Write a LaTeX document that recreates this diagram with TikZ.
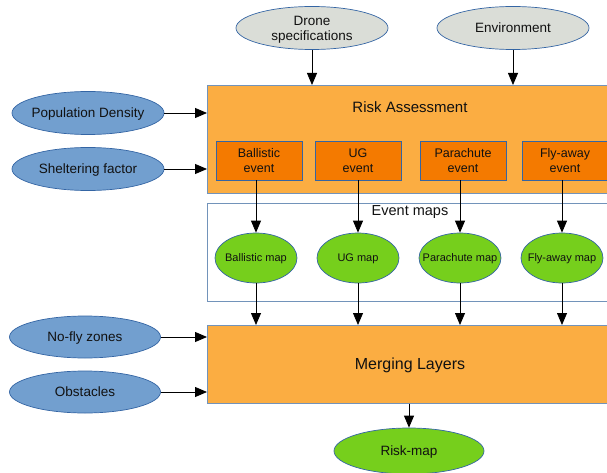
\documentclass[tikz,border=0pt]{standalone}
\usepackage{fontspec}
\setmainfont{Liberation Sans}
\usetikzlibrary{shapes.geometric,arrows.meta}
\definecolor{raorange}{HTML}{FBAD42}
\definecolor{evorange}{HTML}{F47A00}
\definecolor{inblue}{HTML}{729FCF}
\definecolor{ingray}{HTML}{DADDD7}
\definecolor{mapgreen}{HTML}{76CF1C}
\definecolor{edgeblue}{HTML}{3465A4}
\definecolor{boxedge}{HTML}{7293BA}
\definecolor{txt}{HTML}{111111}
\newcommand{\zw}[1]{\makebox[0pt][c]{#1}}
\tikzset{
  ell/.style={ellipse,draw=edgeblue,line width=0.7pt,inner sep=0pt,text=txt,align=center,text depth=0pt},
  inell/.style={ell,fill=inblue,minimum width=152pt,minimum height=43pt,font=\fontsize{13.5}{15}\selectfont},
  topell/.style={ell,fill=ingray,minimum width=152pt,minimum height=43pt,font=\fontsize{13.5}{15}\selectfont},
  mapell/.style={ell,fill=mapgreen,minimum width=82pt,minimum height=50pt,font=\fontsize{11}{13}\selectfont},
  bigbox/.style={rectangle,draw=boxedge,line width=0.7pt,fill=raorange,inner sep=0pt},
  evbox/.style={rectangle,draw=edgeblue,line width=0.7pt,fill=evorange,inner sep=0pt,minimum width=86pt,minimum height=39pt,align=center,text=txt,text depth=0pt,font=\fontsize{12.5}{14.5}\selectfont},
  arr/.style={-{Triangle[length=12pt,width=10pt]},line width=0.8pt,black},
}
\begin{document}
\begin{tikzpicture}[x=1pt,y=-1pt]
\useasboundingbox (0,0) rectangle (607,473);
\clip (0,0) rectangle (607,473);
% top inputs
\node[topell] (drone) at (312,28) {\zw{Drone}\\\zw{specifications}};
\node[topell] (env) at (513,28) {\zw{Environment}};
% risk assessment box
\node[bigbox,minimum width=420pt,minimum height=108pt,anchor=north west] (ra) at (207,85) {};
\node[text=txt,font=\fontsize{15}{17}\selectfont] (ratitle) at (410,107) {Risk Assessment};
\node[evbox] (ev1) at (259,160.5) {Ballistic\\event};
\node[evbox] (ev2) at (358,160.5) {UG\\event};
\node[evbox] (ev3) at (463,160.5) {Parachute\\event};
\node[evbox] (ev4) at (565,160.5) {Fly-away\\event};
% left inputs
\node[inell] (pop) at (88,113) {\zw{Population Density}};
\node[inell] (shel) at (88,169) {\zw{Sheltering factor}};
% event maps box
\node[rectangle,draw=boxedge,line width=0.8pt,inner sep=0pt,minimum width=420pt,minimum height=98pt,anchor=north west] (emaps) at (207,203) {};
\node[text=txt,font=\fontsize{14.5}{16}\selectfont] (emtitle) at (410,212) {Event maps};
\node[mapell] (m1) at (256,258) {\zw{Ballistic map}};
\node[mapell] (m2) at (358,258) {\zw{UG map}};
\node[mapell] (m3) at (460,258) {\zw{Parachute map}};
\node[mapell] (m4) at (562,258) {\zw{Fly-away map}};
% merging
\node[bigbox,minimum width=420pt,minimum height=78pt,anchor=north west] (merge) at (207,325) {};
\node[text=txt,font=\fontsize{16}{18}\selectfont] (mtitle) at (410,365) {Merging Layers};
\node[inell,minimum width=151pt,minimum height=42pt] (nofly) at (85,337) {\zw{No-fly zones}};
\node[inell,minimum width=151pt,minimum height=42pt] (obst) at (85,392) {\zw{Obstacles}};
\node[ell,fill=mapgreen,minimum width=150pt,minimum height=46pt,font=\fontsize{13.5}{15}\selectfont] (risk) at (409,451) {\zw{Risk-map}};
% arrows
\draw[arr] (drone.south) -- (drone.south |- ra.north);
\draw[arr] (env.south) -- (env.south |- ra.north);
\draw[arr] (pop.east) -- (pop.east -| ra.west);
\draw[arr] (shel.east) -- (shel.east -| ra.west);
\foreach \i in {1,2,3,4}{
  \draw[arr] (m\i.north |- ev\i.south) -- (m\i.north);
  \draw[arr] (m\i.south) -- (m\i.south |- merge.north);
}
\draw[arr] (nofly.east) -- (nofly.east -| merge.west);
\draw[arr] (obst.east) -- (obst.east -| merge.west);
\draw[arr] (merge.south -| risk.north) -- (risk.north);
\end{tikzpicture}
\end{document}
